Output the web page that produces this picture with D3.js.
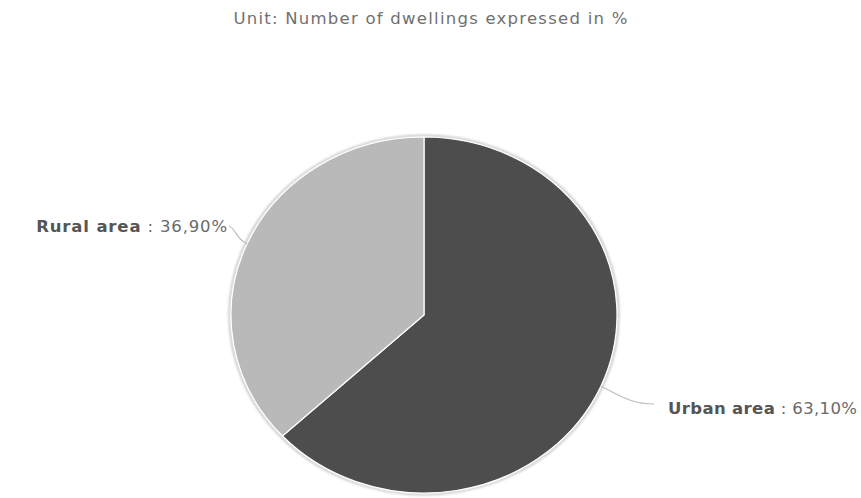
<!DOCTYPE html>
<html>
<head>
<meta charset="utf-8">
<script src="https://cdn.jsdelivr.net/npm/d3@7"></script>
<style>
  html, body { margin: 0; padding: 0; background: #fff; }
  svg { display: block; }
</style>
</head>
<body>
<svg id="chart" width="861" height="498"></svg>
<script>
// Dwelling share by area type
const categories = ["Urban area", "Rural area"];
const values = [63.1, 36.9];
const valueLabels = ["63,10%", "36,90%"];
const colors = ["#4d4d4d", "#b9b9b9"];
const title = "Unit: Number of dwellings expressed in %";

const width = 861, height = 498;
const cx = 424, cy = 315;
const r = 178;          // vertical radius
const sx = 193 / 178;   // horizontal stretch of the pie

const svg = d3.select("#chart");

// spread a text element's letters so it fills a given width
function fitWidth(sel, target) {
  const node = sel.node();
  const len = node.getComputedTextLength();
  const n = node.textContent.length;
  if (n > 1) sel.attr("letter-spacing", (target - len) / (n - 1));
}

const titleText = svg.append("text")
  .attr("x", 431).attr("y", 24)
  .attr("text-anchor", "middle")
  .attr("font-family", "DejaVu Sans, sans-serif")
  .attr("font-size", 16.5)
  .attr("fill", "#707070")
  .text(title);
fitWidth(titleText, 394);

const defs = svg.append("defs");
defs.append("filter").attr("id", "soft")
  .attr("x", "-10%").attr("y", "-10%").attr("width", "120%").attr("height", "120%")
  .append("feGaussianBlur").attr("stdDeviation", 1.2);

const data = categories.map((c, i) => ({ name: c, value: values[i], label: valueLabels[i], color: colors[i] }));

const pie = d3.pie().sort(null).value(d => d.value).startAngle(0).endAngle(2 * Math.PI);
const arcs = pie(data);
const arc = d3.arc().innerRadius(0).outerRadius(r);

const g = svg.append("g").attr("transform", `translate(${cx},${cy}) scale(${sx},1)`);

// soft outer rim
g.append("circle")
  .attr("r", r + 1.5)
  .attr("fill", "none")
  .attr("stroke", "#c8c8c8")
  .attr("stroke-width", 2)
  .attr("filter", "url(#soft)");

g.selectAll("path.slice")
  .data(arcs)
  .join("path")
  .attr("class", "slice")
  .attr("d", arc)
  .attr("fill", d => d.data.color)
  .attr("stroke", "#ffffff")
  .attr("stroke-width", 1.2)
  .attr("vector-effect", "non-scaling-stroke");

// data labels with connectors
const labelG = svg.append("g");
arcs.forEach(a => {
  const mid = (a.startAngle + a.endAngle) / 2;
  const ex = cx + Math.sin(mid) * r * sx;
  const ey = cy - Math.cos(mid) * r;
  const right = Math.sin(mid) > 0;
  let path, tx, ty, anchor;
  if (right) {
    tx = 668; ty = 414; anchor = "start";
    path = `M${ex},${ey} L${ex + 8},${ey + 4} C${ex + 25},${ey + 13} ${ex + 35},${ty - 10} ${tx - 14},${ty - 10}`;
  } else {
    tx = 228; ty = 232; anchor = "end";
    path = `M${ex},${ey} L${ex - 4},${ey - 2.5} C${ex - 10},${ey - 6} ${ex - 14},${ty - 6} ${tx + 1},${ty - 6}`;
  }
  labelG.append("path")
    .attr("d", path)
    .attr("fill", "none")
    .attr("stroke", "#bdbdbd")
    .attr("stroke-width", 1.2);

  const t = labelG.append("text")
    .attr("x", tx).attr("y", ty)
    .attr("text-anchor", anchor)
    .attr("font-family", "DejaVu Sans, sans-serif")
    .attr("font-size", 16.5)
    .attr("fill", "#555555");
  t.append("tspan").attr("font-weight", "bold").text(a.data.name);
  t.append("tspan").attr("fill", "#6a6a6a").text(" : " + a.data.label);
  fitWidth(t, right ? 189 : 191);
});
</script>
</body>
</html>
